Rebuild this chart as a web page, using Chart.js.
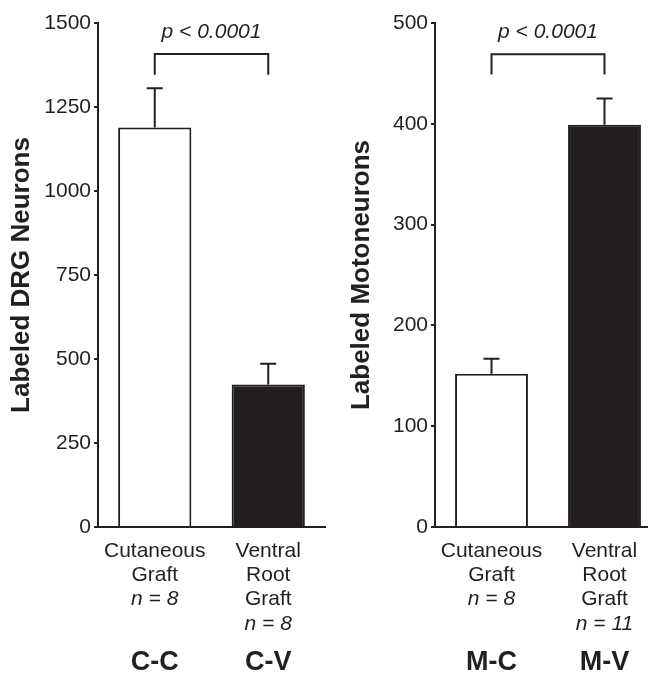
<!DOCTYPE html>
<html>
<head>
<meta charset="utf-8">
<title>Labeled neurons by graft type</title>
<script src="https://cdn.jsdelivr.net/npm/chart.js@4.4.0/dist/chart.umd.min.js"></script>
<style>
  html, body { margin: 0; padding: 0; background: #fff; width: 648px; height: 673px; overflow: hidden; }
  #wrap { position: relative; width: 648px; height: 673px; overflow: hidden; }
  #leftBox { position: absolute; left: 0; top: 0; width: 330px; height: 673px; }
  #rightBox { position: absolute; left: 324px; top: 0; width: 340px; height: 673px; }
</style>
</head>
<body>
<div id="wrap">
  <div id="leftBox"><canvas id="drgChart" width="330" height="673"></canvas></div>
  <div id="rightBox"><canvas id="motoChart" width="340" height="673"></canvas></div>
</div>
<script>
// Data
const graftLines = [['Cutaneous', 'Graft'], ['Ventral', 'Root', 'Graft']];
const drgN = ['n = 8', 'n = 8'];
const motoN = ['n = 8', 'n = 11'];
const drgGroups = ['C-C', 'C-V'];
const motoGroups = ['M-C', 'M-V'];
const drgMeans = [1189, 424];
const drgErrors = [117, 62];
const motoMeans = [152, 399];
const motoErrors = [15, 26];
const drgTicks = [0, 250, 500, 750, 1000, 1250, 1500];
const motoTicks = [0, 100, 200, 300, 400, 500];
const bracketTops = [1408, 469];
const bracketFeet = [1346, 449];
const pLabel = 'p < 0.0001';

const INK = '#231f20';
const FONT = "'Liberation Sans', Arial, Helvetica, sans-serif";

// error bars, significance bracket and the multi-style category labels
const annotations = {
  id: 'annotations',
  afterDatasetsDraw(chart, args, opts) {
    const { ctx, scales: { x, y } } = chart;
    ctx.save();
    ctx.strokeStyle = INK;
    ctx.fillStyle = INK;
    ctx.lineWidth = 2;

    opts.means.forEach((m, i) => {
      const cx = x.getPixelForValue(i);
      const y0 = y.getPixelForValue(m);
      const y1 = y.getPixelForValue(m + opts.errors[i]);
      ctx.beginPath();
      ctx.moveTo(cx, y0);
      ctx.lineTo(cx, y1);
      ctx.moveTo(cx - 8, y1);
      ctx.lineTo(cx + 8, y1);
      ctx.stroke();
    });

    const xa = x.getPixelForValue(0);
    const xb = x.getPixelForValue(1);
    const yt = y.getPixelForValue(opts.bracketTop);
    const yf = y.getPixelForValue(opts.bracketFoot);
    ctx.beginPath();
    ctx.moveTo(xa, yf);
    ctx.lineTo(xa, yt);
    ctx.lineTo(xb, yt);
    ctx.lineTo(xb, yf);
    ctx.stroke();

    ctx.textAlign = 'center';
    ctx.textBaseline = 'alphabetic';
    ctx.font = `italic 21px ${FONT}`;
    ctx.fillText(pLabel, (xa + xb) / 2, yt - 16);

    const base = y.bottom + 30;
    graftLines.forEach((lines, i) => {
      const cx = x.getPixelForValue(i);
      ctx.font = `21px ${FONT}`;
      lines.forEach((t, k) => ctx.fillText(t, cx, base + k * 24.2));
      ctx.font = `italic 21px ${FONT}`;
      ctx.fillText(opts.n[i], cx, base + lines.length * 24.2);
      ctx.font = `bold 27px ${FONT}`;
      ctx.fillText(opts.groups[i], cx, y.bottom + 142.5);
    });
    ctx.restore();
  }
};

function makeChart(id, cfg) {
  return new Chart(document.getElementById(id), {
    type: 'bar',
    data: {
      labels: graftLines.map(l => l.join(' ')),
      datasets: [{
        data: cfg.means,
        backgroundColor: ['#ffffff', INK],
        borderColor: INK,
        borderWidth: 2,
        barPercentage: 0.645,
        categoryPercentage: 1
      }]
    },
    options: {
      responsive: false,
      animation: false,
      events: [],
      layout: { padding: { left: 0, right: cfg.padRight, top: 23, bottom: 0 } },
      plugins: {
        legend: { display: false },
        tooltip: { enabled: false },
        annotations: {
          means: cfg.means,
          errors: cfg.errors,
          bracketTop: cfg.bracketTop,
          bracketFoot: cfg.bracketFoot,
          n: cfg.n,
          groups: cfg.groups
        }
      },
      scales: {
        x: {
          type: 'category',
          offset: true,
          ticks: { display: false },
          grid: { display: false },
          border: { display: true, color: INK, width: 2 },
          afterFit: s => { s.height = 146; }
        },
        y: {
          min: cfg.ticks[0],
          max: cfg.ticks[cfg.ticks.length - 1],
          afterBuildTicks: s => { s.ticks = cfg.ticks.map(v => ({ value: v })); },
          ticks: {
            color: INK,
            font: { family: FONT, size: 21 },
            padding: 3,
            callback: v => String(v)
          },
          grid: { drawOnChartArea: false, drawTicks: true, tickLength: 4, color: INK, lineWidth: 2 },
          border: { color: INK, width: 2 },
          title: {
            display: true,
            text: cfg.title,
            color: INK,
            font: { family: FONT, size: 26, weight: 'bold' },
            padding: { top: cfg.titlePad, bottom: 0 }
          },
          afterFit: s => { s.width = cfg.axisWidth; }
        }
      }
    },
    plugins: [annotations]
  });
}

makeChart('drgChart', {
  means: drgMeans, errors: drgErrors, ticks: drgTicks,
  bracketTop: bracketTops[0], bracketFoot: bracketFeet[0],
  n: drgN, groups: drgGroups, title: 'Labeled DRG Neurons',
  axisWidth: 98, padRight: 5, titlePad: 6
});

makeChart('motoChart', {
  means: motoMeans, errors: motoErrors, ticks: motoTicks,
  bracketTop: bracketTops[1], bracketFoot: bracketFeet[1],
  n: motoN, groups: motoGroups, title: 'Labeled Motoneurons',
  axisWidth: 111, padRight: 3, titlePad: 22
});
</script>
</body>
</html>
